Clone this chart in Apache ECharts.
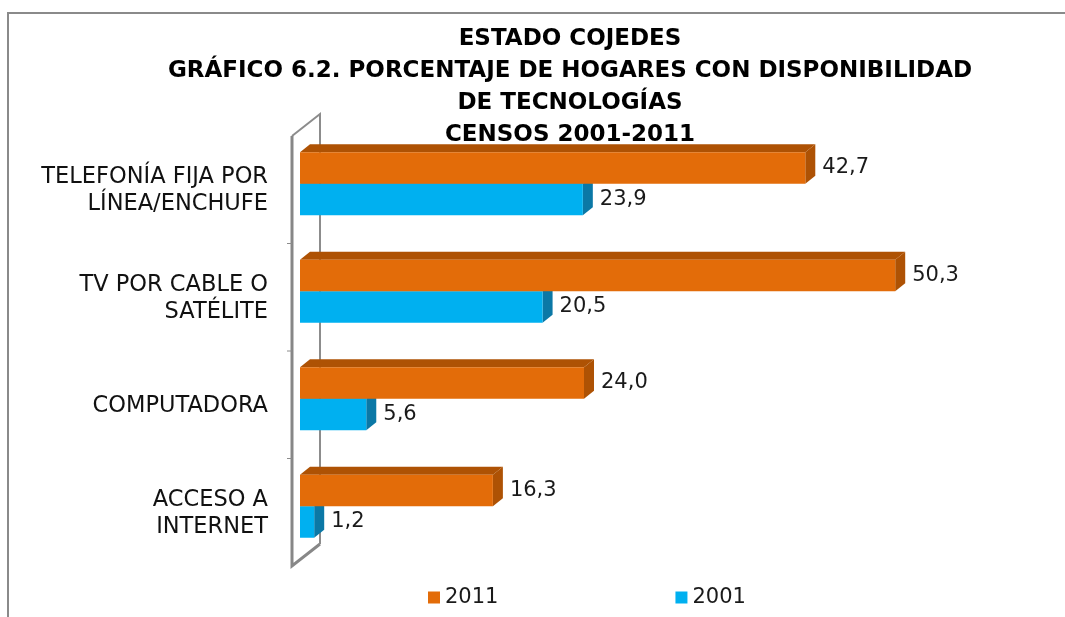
<!DOCTYPE html>
<html>
<head>
<meta charset="utf-8">
<script src="https://cdn.jsdelivr.net/npm/echarts@6/dist/echarts.min.js"></script>
<style>
  html, body { margin: 0; padding: 0; background: #fff; }
  #chart { width: 1065px; height: 617px; }
</style>
</head>
<body>
<div id="chart"></div>
<script>
const categories = [
  'TELEFONÍA FIJA POR\nLÍNEA/ENCHUFE',
  'TV POR CABLE O\nSATÉLITE',
  'COMPUTADORA',
  'ACCESO A\nINTERNET'
];
const years = ['2011', '2001'];
const values2011 = [42.7, 50.3, 24.0, 16.3];
const values2001 = [23.9, 20.5, 5.6, 1.2];

const FONT = '"DejaVu Sans", sans-serif';
const fmt = v => v.toFixed(1).replace('.', ',');

// bars drawn as a front face plus a darker top and side face
function bar3d(offset, front, dark) {
  return function (params, api) {
    const cat = api.value(1);
    const end = api.coord([api.value(0), cat]);
    const start = api.coord([0, cat]);
    const band = api.size([0, 1])[1];
    const h = band * 0.293;
    const y = end[1] + offset * h;
    const dx = 10, dy = -8;
    const x0 = start[0], x1 = end[0];
    return {
      type: 'group',
      children: [
        { type: 'polygon', shape: { points: [[x0, y], [x0 + dx, y + dy], [x1 + dx, y + dy], [x1, y]] }, style: { fill: dark } },
        { type: 'polygon', shape: { points: [[x1, y], [x1 + dx, y + dy], [x1 + dx, y + dy + h], [x1, y + h]] }, style: { fill: dark } },
        { type: 'rect', shape: { x: x0, y: y, width: x1 - x0, height: h }, style: { fill: front } },
        { type: 'text', style: { text: fmt(api.value(0)), x: x1 + dx + 7, y: y + h / 2, verticalAlign: 'middle', font: '21px ' + FONT, fill: '#1a1a1a' } }
      ]
    };
  };
}

// the grey 3d wall behind the bars
function wall(params, api) {
  const o = api.coord([0, 0]);
  const band = api.size([0, 1])[1];
  const top = o[1] - band / 2;
  const bottom = top + categories.length * band;
  const fx = o[0] - 8, bx = o[0] + 20;
  const children = [
    { type: 'polyline', shape: { points: [[bx, bottom - 16], [bx, top - 16], [fx, top + 6]] }, style: { stroke: '#8c8c8c', lineWidth: 2, fill: null } },
    { type: 'polyline', shape: { points: [[fx, top + 6], [fx, bottom + 6], [bx, bottom - 16]] }, style: { stroke: '#878787', lineWidth: 3, fill: null } }
  ];
  for (let k = 1; k < categories.length; k++) {
    const ty = top + 6 + k * band;
    children.push({ type: 'line', shape: { x1: fx - 5, y1: ty, x2: fx, y2: ty }, style: { stroke: '#8c8c8c', lineWidth: 1 } });
  }
  return { type: 'group', children };
}

const chart = echarts.init(document.getElementById('chart'));

const option = {
  backgroundColor: '#fff',
  animation: false,
  title: {
    text: 'ESTADO COJEDES\nGRÁFICO 6.2. PORCENTAJE DE HOGARES CON DISPONIBILIDAD\nDE TECNOLOGÍAS\nCENSOS 2001-2011',
    left: 565,
    top: 18,
    textAlign: 'center',
    textStyle: {
      fontFamily: FONT,
      fontWeight: 'bold',
      fontSize: 23,
      lineHeight: 32,
      color: '#000'
    }
  },
  legend: {
    data: years,
    left: 423,
    top: 582,
    itemGap: 177,
    itemWidth: 12,
    itemHeight: 12,
    icon: 'rect',
    textStyle: { fontFamily: FONT, fontSize: 21, color: '#1a1a1a' }
  },
  // second grid only carries the category labels, sitting on the front face of the wall
  grid: [
    { left: 300, right: 55, top: 130, bottom: 57 },
    { left: 300, right: 55, top: 137, bottom: 50 }
  ],
  xAxis: [
    { type: 'value', min: 0, max: 60, show: false, gridIndex: 0 },
    { type: 'value', min: 0, max: 60, show: false, gridIndex: 1 }
  ],
  yAxis: [
    { type: 'category', data: categories, inverse: true, show: false, gridIndex: 0 },
    {
      type: 'category',
      data: categories,
      inverse: true,
      gridIndex: 1,
      axisLine: { show: false },
      axisTick: { show: false },
      axisLabel: {
        margin: 32,
        fontFamily: FONT,
        fontSize: 22.5,
        lineHeight: 27,
        color: '#111',
        align: 'right'
      }
    }
  ],
  graphic: [{
    type: 'polyline',
    shape: { points: [[8, 617], [8, 13], [1065, 13]] },
    style: { stroke: '#8a8a8a', lineWidth: 2, fill: null },
    silent: true
  }],
  series: [
    {
      type: 'custom',
      name: 'wall',
      renderItem: wall,
      data: [[0, 0]],
      encode: { x: 0, y: 1 },
      silent: true,
      z: 1
    },
    {
      type: 'custom',
      name: '2001',
      renderItem: bar3d(0, '#00B0F0', '#0B78A6'),
      data: values2001.map((v, i) => [v, i]),
      encode: { x: 0, y: 1 },
      itemStyle: { color: '#00B0F0' },
      z: 2
    },
    {
      type: 'custom',
      name: '2011',
      renderItem: bar3d(-1, '#E36C09', '#AE5204'),
      data: values2011.map((v, i) => [v, i]),
      encode: { x: 0, y: 1 },
      itemStyle: { color: '#E36C09' },
      z: 3
    }
  ]
};

chart.setOption(option);
</script>
</body>
</html>
